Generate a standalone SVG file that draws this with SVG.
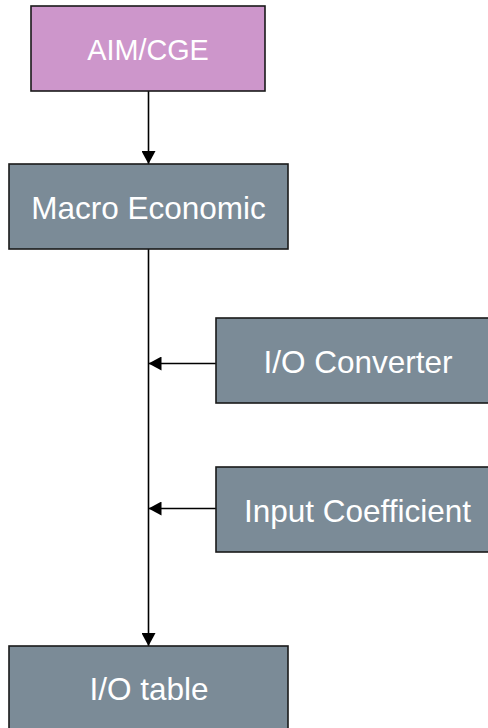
<svg xmlns="http://www.w3.org/2000/svg" width="488" height="728" viewBox="0 0 488 728">
<style>
.box{stroke:#1a1a1a;stroke-width:1.6}
.gray{fill:#7b8b97}
.pink{fill:#cd96cb}
.lbl{font-family:"Liberation Sans",Arial,sans-serif;font-size:31.5px;fill:#ffffff;text-anchor:middle}
.small{font-size:28.8px}
.conn{stroke:#000;stroke-width:1.6;fill:none}
</style>
<defs>
<marker id="arr" viewBox="0 0 13 14" refX="13" refY="7" markerWidth="13" markerHeight="14" markerUnits="userSpaceOnUse" orient="auto">
<path d="M0,0 L13,7 L0,14 Z" fill="#000"/>
</marker>
</defs>
<g id="connectors">
<line class="conn" x1="148.5" y1="91" x2="148.5" y2="164" marker-end="url(#arr)"/>
<line class="conn" x1="148.5" y1="249" x2="148.5" y2="646" marker-end="url(#arr)"/>
<line class="conn" x1="216" y1="363.5" x2="148.5" y2="363.5" marker-end="url(#arr)"/>
<line class="conn" x1="216" y1="508.5" x2="148.5" y2="508.5" marker-end="url(#arr)"/>
</g>
<g id="aim-cge">
<rect class="box pink" x="31" y="6" width="234" height="85"/>
<text class="lbl small" x="148" y="60">AIM/CGE</text>
</g>
<g id="macro-economic">
<rect class="box gray" x="9" y="164" width="279" height="85"/>
<text class="lbl" x="148.5" y="219">Macro Economic</text>
</g>
<g id="io-converter">
<rect class="box gray" x="216" y="318" width="284" height="85"/>
<text class="lbl" x="358" y="373">I/O Converter</text>
</g>
<g id="input-coefficient">
<rect class="box gray" x="216" y="467" width="284" height="85"/>
<text class="lbl" x="357.5" y="521.5">Input Coefficient</text>
</g>
<g id="io-table">
<rect class="box gray" x="9" y="646" width="279" height="85"/>
<text class="lbl" x="149" y="700">I/O table</text>
</g>
</svg>
